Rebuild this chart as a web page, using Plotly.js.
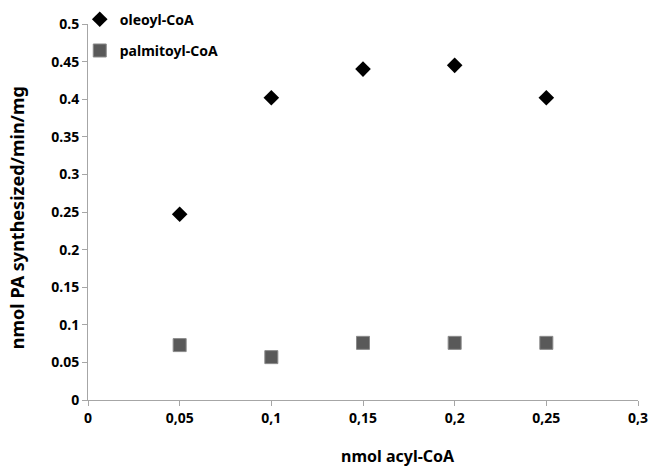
<!DOCTYPE html>
<html>
<head>
<meta charset="utf-8">
<script src="https://cdn.plot.ly/plotly-3.0.1.min.js"></script>
<style>html,body{margin:0;padding:0;background:#fff;}#chart{width:649px;height:470px;}</style>
</head>
<body>
<div id="chart"></div>
<script>
const acylCoA = [0.05, 0.1, 0.15, 0.2, 0.25];
const oleoyl = [0.247, 0.402, 0.440, 0.445, 0.402];
const palmitoyl = [0.073, 0.057, 0.076, 0.076, 0.076];
const xTickVals = [0, 0.05, 0.1, 0.15, 0.2, 0.25, 0.3];
const xTickText = ["0", "0,05", "0,1", "0,15", "0,2", "0,25", "0,3"];
const yTickVals = [0, 0.05, 0.1, 0.15, 0.2, 0.25, 0.3, 0.35, 0.4, 0.45, 0.5];
const yTickText = ["0", "0.05", "0.1", "0.15", "0.2", "0.25", "0.3", "0.35", "0.4", "0.45", "0.5"];
const xTitle = "nmol acyl-CoA";
const yTitle = "nmol PA synthesized/min/mg";

const FONT = "'Noto Sans', 'Open Sans', sans-serif";
const bold = t => "<b>" + t + "</b>";
const traces = [
  {x: acylCoA, y: oleoyl, name: "oleoyl-CoA", type: "scatter", mode: "markers", legendgroup: "a",
   marker: {symbol: "diamond", size: 12, color: "#000000"}},
  {x: acylCoA, y: palmitoyl, name: "palmitoyl-CoA", type: "scatter", mode: "markers", legendgroup: "b",
   marker: {symbol: "square", size: 13, color: "#595959", line: {color: "#8a8a8a", width: 1}}}
];
const layout = {
  width: 649, height: 470,
  margin: {l: 88, r: 11, t: 24, b: 70, autoexpand: false},
  paper_bgcolor: "#fff", plot_bgcolor: "#fff",
  font: {family: FONT, color: "#000", size: 13},
  showlegend: true,
  legend: {x: -0.015, y: 1.054, xanchor: "left", yanchor: "top", bgcolor: "rgba(0,0,0,0)",
           font: {family: FONT, size: 14, weight: "bold", color: "#000"}, traceorder: "grouped", tracegroupgap: 10,
           itemwidth: 30},
  xaxis: {range: [0, 0.3], tickvals: xTickVals, ticktext: xTickText.map(bold), showgrid: false, zeroline: false,
          showline: true, linecolor: "#a6a6a6", linewidth: 1, ticks: "outside", ticklen: 5, tickcolor: "#a6a6a6",
          tickfont: {family: FONT, size: 14, weight: "bold", color: "#000"}, fixedrange: true},
  yaxis: {range: [0, 0.5], tickvals: yTickVals, ticktext: yTickText.map(bold), showgrid: false, zeroline: false,
          showline: true, linecolor: "#a6a6a6", linewidth: 1, ticks: "outside", ticklen: 5, tickcolor: "#a6a6a6",
          tickfont: {family: FONT, size: 14, weight: "bold", color: "#000"}, fixedrange: true},
  annotations: [
    {text: bold(xTitle), xref: "paper", yref: "paper", x: 0.564, y: -0.148, xanchor: "center", yanchor: "middle",
     showarrow: false, font: {family: FONT, size: 16, color: "#000"}},
    {text: bold(yTitle), xref: "paper", yref: "paper", x: -0.13, y: 0.485, xanchor: "center", yanchor: "middle",
     textangle: -90, showarrow: false, font: {family: FONT, size: 18, color: "#000"}}
  ]
};
Plotly.newPlot("chart", traces, layout, {displayModeBar: false, staticPlot: true});
</script>
</body>
</html>
